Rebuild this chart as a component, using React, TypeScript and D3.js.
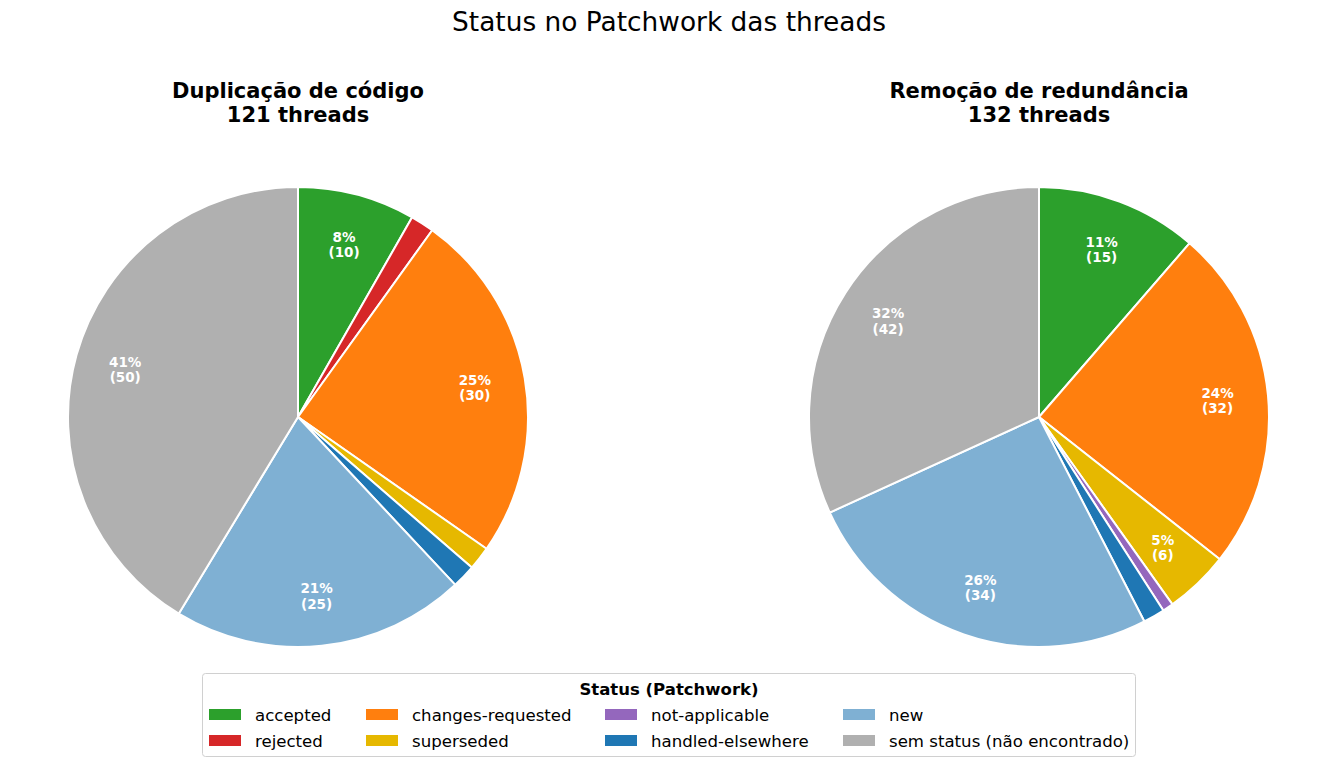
import * as d3 from 'd3'

const statuses = [
  'accepted',
  'rejected',
  'changes-requested',
  'superseded',
  'not-applicable',
  'handled-elsewhere',
  'new',
  'sem status (não encontrado)'
]
const statusColors = ['#2ca02c', '#d62728', '#ff7f0e', '#e6b800', '#9467bd', '#1f77b4', '#7fb0d3', '#b0b0b0']

const panelTitles = ['Duplicação de código', 'Remoção de redundância']
const dupCounts = [10, 2, 30, 2, 0, 2, 25, 50]
const redCounts = [15, 0, 32, 6, 1, 2, 34, 42]
const panelCounts = [dupCounts, redCounts]

const legendOrder = [
  ['accepted', 'rejected'],
  ['changes-requested', 'superseded'],
  ['not-applicable', 'handled-elsewhere'],
  ['new', 'sem status (não encontrado)']
]

const W = 1337
const H = 767
const FONT = 'DejaVu Sans, sans-serif'

type Slice = { status: string; value: number; color: string }

function Pie({ counts, title, cx, cy, r }: { counts: number[]; title: string; cx: number; cy: number; r: number }) {
  const total = d3.sum(counts)
  const data: Slice[] = statuses
    .map((s, i) => ({ status: s, value: counts[i], color: statusColors[i] }))
    .filter(d => d.value > 0)
  const pie = d3.pie<Slice>().value(d => d.value).sort(null)
  const arc = d3.arc<d3.PieArcDatum<Slice>>().innerRadius(0).outerRadius(r)
  const labelArc = d3.arc<d3.PieArcDatum<Slice>>().innerRadius(r * 0.78).outerRadius(r * 0.78)
  const arcs = pie(data)
  return (
    <g>
      <text x={cx} y={98} textAnchor="middle" fontFamily={FONT} fontWeight="bold" fontSize={21} fill="#000">
        {title}
      </text>
      <text x={cx} y={122} textAnchor="middle" fontFamily={FONT} fontWeight="bold" fontSize={21} fill="#000">
        {`${total} threads`}
      </text>
      <g transform={`translate(${cx},${cy})`}>
        {arcs.map(a => (
          <path key={a.data.status} d={arc(a) || ''} fill={a.data.color} stroke="#fff" strokeWidth={2} strokeLinejoin="round" />
        ))}
        {arcs.map(a => {
          const pct = (a.data.value / total) * 100
          if (pct < 3) return null
          const [lx, ly] = labelArc.centroid(a)
          return (
            <text key={'l' + a.data.status} x={lx} y={ly} textAnchor="middle" fontFamily={FONT} fontWeight="bold" fontSize={13.5} fill="#fff">
              <tspan x={lx} dy="-0.15em">{`${Math.round(pct)}%`}</tspan>
              <tspan x={lx} dy="1.15em">{`(${a.data.value})`}</tspan>
            </text>
          )
        })}
      </g>
    </g>
  )
}

export default function App() {
  const colX = [209, 366, 605, 843]
  const rowY = [715, 741]
  return (
    <svg width={W} height={H} style={{ position: 'absolute', left: 0, top: 0 }}>
      <rect width={W} height={H} fill="#fff" />
      <text x={669} y={31} textAnchor="middle" fontFamily={FONT} fontSize={26.4} fill="#000">
        Status no Patchwork das threads
      </text>
      {panelCounts.map((c, i) => (
        <Pie key={i} counts={c} title={panelTitles[i]} cx={i === 0 ? 298 : 1039} cy={417} r={230} />
      ))}
      <g>
        <rect x={202.5} y={673.5} width={933} height={83} rx={3} fill="#fff" stroke="#d0d0d0" />
        <text x={669} y={695} textAnchor="middle" fontFamily={FONT} fontWeight="bold" fontSize={16.5} fill="#000">
          Status (Patchwork)
        </text>
        {legendOrder.map((col, ci) =>
          col.map((s, ri) => (
            <g key={s}>
              <rect x={colX[ci]} y={rowY[ri] - 6} width={32} height={11} fill={statusColors[statuses.indexOf(s)]} />
              <text x={colX[ci] + 46} y={rowY[ri] + 6} fontFamily={FONT} fontSize={16.6} fill="#000">
                {s}
              </text>
            </g>
          ))
        )}
      </g>
    </svg>
  )
}
